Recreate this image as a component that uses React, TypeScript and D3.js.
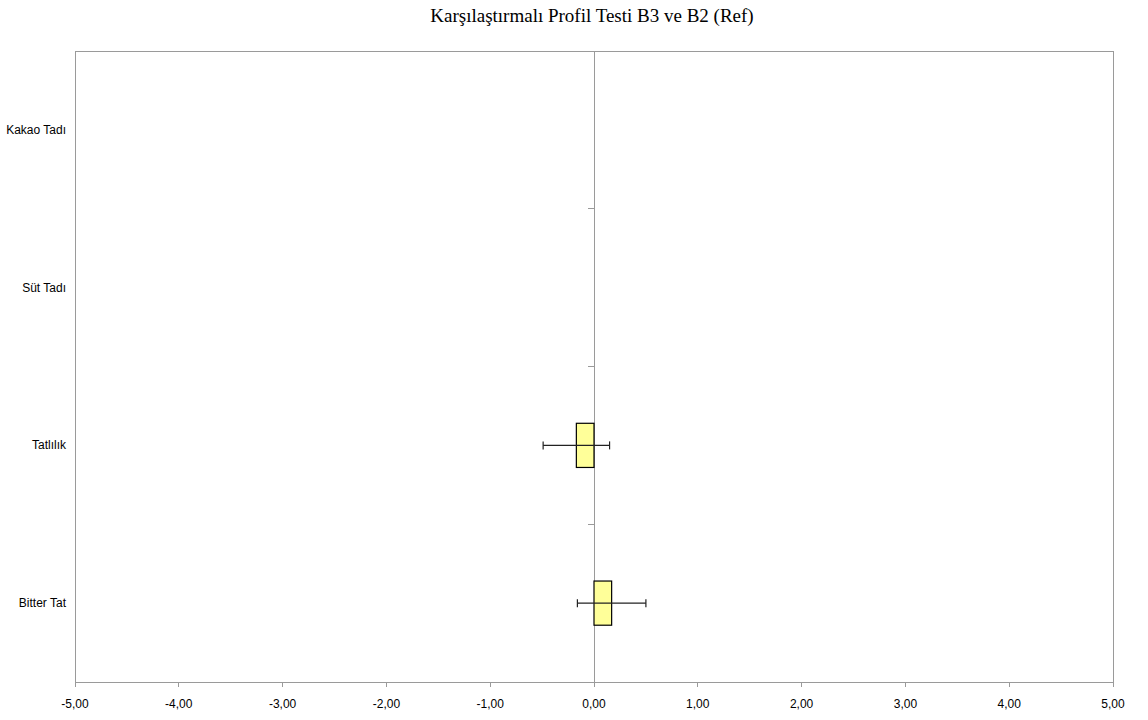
import * as d3 from 'd3'
import React from 'react'

// categories top to bottom, difference B3 - B2 with error half width
const attributes = ['Kakao Tadı', 'Süt Tadı', 'Tatlılık', 'Bitter Tat']
const diffs = [0, 0, -0.17, 0.17]
const errs = [0, 0, 0.32, 0.33]
const xTicks = [-5, -4, -3, -2, -1, 0, 1, 2, 3, 4, 5]

const W = 1148
const H = 720
const m = { top: 51, right: 35, bottom: 38, left: 75 }

export default function App() {
    const x = d3.scaleLinear().domain([-5, 5]).range([m.left, W - m.right])
    const y = d3.scaleBand().domain(attributes).range([m.top, H - m.bottom])
    const fmt = (v: number) => v.toFixed(2).replace('.', ',')
    const barH = y.bandwidth() * 0.28
    const cap = 4
    const bottom = H - m.bottom
    const bounds = attributes.map(a => y(a) as number).concat([bottom])

    return (
        <svg width={W} height={H} style={{ position: 'absolute', left: 0, top: 0, background: '#fff' }}>
            <text x={(m.left + W - m.right) / 2 - 2} y={22} textAnchor="middle"
                fontFamily="Liberation Serif, Times New Roman, serif" fontSize={19} fill="#000">
                Karşılaştırmalı Profil Testi B3 ve B2 (Ref)
            </text>

            {/* plot frame */}
            <rect x={m.left} y={m.top} width={W - m.left - m.right} height={bottom - m.top}
                fill="none" stroke="#9a9a9a" strokeWidth={1} shapeRendering="crispEdges" />

            {/* x axis ticks */}
            {xTicks.map(t => (
                <g key={t}>
                    <line x1={x(t)} x2={x(t)} y1={bottom} y2={bottom + 5} stroke="#9a9a9a" shapeRendering="crispEdges" />
                    <text x={x(t)} y={bottom + 26} textAnchor="middle"
                        fontFamily="Liberation Sans, Arial, sans-serif" fontSize={12} fill="#000">{fmt(t)}</text>
                </g>
            ))}

            {/* zero line with category ticks */}
            <line x1={x(0)} x2={x(0)} y1={m.top} y2={bottom} stroke="#9a9a9a" shapeRendering="crispEdges" />
            {bounds.map((b, i) => (
                <line key={i} x1={x(0) - 6} x2={x(0)} y1={b} y2={b} stroke="#9a9a9a" shapeRendering="crispEdges" />
            ))}

            {/* category labels */}
            {attributes.map(a => (
                <text key={a} x={m.left - 9} y={(y(a) as number) + y.bandwidth() / 2 + 4} textAnchor="end"
                    fontFamily="Liberation Sans, Arial, sans-serif" fontSize={12} fill="#000">{a}</text>
            ))}

            {/* bars and error bars */}
            {attributes.map((a, i) => {
                if (diffs[i] === 0) return null
                const cy = (y(a) as number) + y.bandwidth() / 2
                const x0 = Math.min(x(0), x(diffs[i]))
                const lo = x(diffs[i] - errs[i])
                const hi = x(diffs[i] + errs[i])
                return (
                    <g key={a}>
                        <rect x={x0} y={cy - barH / 2} width={Math.abs(x(diffs[i]) - x(0))} height={barH}
                            fill="#ffff99" stroke="#000" strokeWidth={1.2} />
                        <line x1={lo} x2={hi} y1={cy} y2={cy} stroke="#222" strokeWidth={1.2} />
                        <line x1={lo} x2={lo} y1={cy - cap} y2={cy + cap} stroke="#222" strokeWidth={1.2} />
                        <line x1={hi} x2={hi} y1={cy - cap} y2={cy + cap} stroke="#222" strokeWidth={1.2} />
                    </g>
                )
            })}
        </svg>
    )
}
